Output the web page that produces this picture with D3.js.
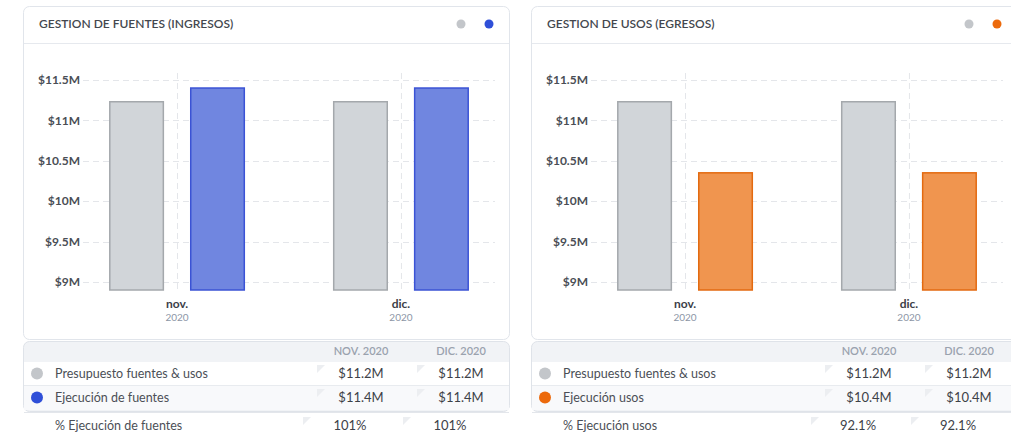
<!DOCTYPE html>
<html>
<head>
<meta charset="utf-8">
<script src="https://cdn.jsdelivr.net/npm/d3@7"></script>
<style>
  body { margin: 0; background: #fff; font-family: Lato, "Open Sans", sans-serif; }
  svg text { font-family: Lato, "Open Sans", sans-serif; }
</style>
</head>
<body>
<svg id="chart" width="1011" height="436"></svg>
<script>
// months on the x axis
const months = ['nov.', 'dic.'];
const years = ['2020', '2020'];
const colHeaders = ['NOV. 2020', 'DIC. 2020'];
const yTicks = [9, 9.5, 10, 10.5, 11, 11.5];

// values in millions
const presupuesto = [11.24, 11.24];
const ejecFuentes = [11.41, 11.41];
const ejecUsos = [10.36, 10.36];

const presupuestoText = ['$11.2M', '$11.2M'];
const fuentesText = ['$11.4M', '$11.4M'];
const usosText = ['$10.4M', '$10.4M'];
const pctFuentes = ['101%', '101%'];
const pctUsos = ['92.1%', '92.1%'];

const GRAY = { fill: '#d1d5d9', stroke: '#a4a8ac', dot: '#c3c6ca' };
const BLUE = { fill: '#7086e0', stroke: '#3b53d5', dot: '#2f4fd8' };
const ORANGE = { fill: '#f0954f', stroke: '#e36a10', dot: '#ec6a0c' };

const panels = [
    {
        x: 0,
        title: 'GESTION DE FUENTES (INGRESOS)',
        series: [
            { name: 'Presupuesto fuentes & usos', values: presupuesto, text: presupuestoText, color: GRAY },
            { name: 'Ejecución de fuentes', values: ejecFuentes, text: fuentesText, color: BLUE },
        ],
        pctLabel: '% Ejecución de fuentes',
        pct: pctFuentes,
    },
    {
        x: 508,
        title: 'GESTION DE USOS (EGRESOS)',
        series: [
            { name: 'Presupuesto fuentes & usos', values: presupuesto, text: presupuestoText, color: GRAY },
            { name: 'Ejecución usos', values: ejecUsos, text: usosText, color: ORANGE },
        ],
        pctLabel: '% Ejecución usos',
        pct: pctUsos,
    },
];

const svg = d3.select('#chart');

const y = d3.scaleLinear().domain([8.9, 11.5]).range([290, 80]);
const fmt = v => '$' + d3.format('~g')(v) + 'M';

panels.forEach(p => {
    const g = svg.append('g').attr('transform', `translate(${p.x},0)`);

    // card
    g.append('rect')
        .attr('x', 23.5).attr('y', 6.5)
        .attr('width', 486).attr('height', 333)
        .attr('rx', 6)
        .attr('fill', '#fff')
        .attr('stroke', '#e1e5eb');
    g.append('line')
        .attr('x1', 24).attr('x2', 509)
        .attr('y1', 43.5).attr('y2', 43.5)
        .attr('stroke', '#e6e9ee');
    g.append('text')
        .attr('x', 39).attr('y', 28)
        .attr('font-size', 12).attr('font-weight', 600)
        .attr('fill', '#43474e')
        .text(p.title);
    g.selectAll('.legend-dot')
        .data(p.series)
        .enter().append('circle')
        .attr('cx', (d, i) => 461 + i * 28)
        .attr('cy', 24)
        .attr('r', 4.5)
        .attr('fill', d => d.color.dot);

    // scales
    const x = d3.scalePoint().domain(months).range([83, 495]).padding(0.42);
    const xs = d3.scaleBand().domain(p.series.map(s => s.name))
        .range([-68, 68]).paddingInner(0.32).paddingOuter(0);

    // grid
    g.selectAll('.hgrid')
        .data(yTicks)
        .enter().append('line')
        .attr('x1', 83).attr('x2', 495)
        .attr('y1', d => Math.round(y(d)) + 0.5)
        .attr('y2', d => Math.round(y(d)) + 0.5)
        .attr('stroke', '#e4e6ea')
        .attr('stroke-dasharray', '6,4');
    g.selectAll('.vgrid')
        .data(months)
        .enter().append('line')
        .attr('x1', d => x(d) + 0.5).attr('x2', d => x(d) + 0.5)
        .attr('y1', 73).attr('y2', 290)
        .attr('stroke', '#e4e6ea')
        .attr('stroke-dasharray', '6,4');

    // y axis
    const yAxis = g.append('g')
        .attr('transform', 'translate(80,0)')
        .call(d3.axisLeft(y).tickValues(yTicks).tickFormat(fmt).tickSize(0).tickPadding(0));
    yAxis.select('.domain').remove();
    yAxis.selectAll('text')
        .attr('font-size', 12).attr('font-weight', 700)
        .attr('fill', '#4a4e55')
        .style('font-family', 'Lato, sans-serif');

    // bars
    p.series.forEach(s => {
        g.selectAll(null)
            .data(s.values)
            .enter().append('rect')
            .attr('x', (d, i) => x(months[i]) + xs(s.name) + 0.75)
            .attr('y', d => y(d) + 0.75)
            .attr('width', xs.bandwidth() - 1.5)
            .attr('height', d => y.range()[0] - y(d) - 0.75)
            .attr('fill', s.color.fill)
            .attr('stroke', s.color.stroke)
            .attr('stroke-width', 1.5);
    });

    // x labels
    g.selectAll('.xlab')
        .data(months)
        .enter().append('text')
        .attr('x', d => x(d)).attr('y', 308)
        .attr('text-anchor', 'middle')
        .attr('font-size', 12).attr('font-weight', 700)
        .attr('fill', '#3c4047')
        .text(d => d);
    g.selectAll('.xyear')
        .data(years)
        .enter().append('text')
        .attr('x', (d, i) => x(months[i])).attr('y', 321)
        .attr('text-anchor', 'middle')
        .attr('font-size', 10)
        .attr('fill', '#8c96a6')
        .text(d => d);

    // table
    const cols = [361, 461];
    const pctCols = [350, 450];
    const tb = g.append('g');
    tb.append('rect')
        .attr('x', 23.5).attr('y', 341.5)
        .attr('width', 486).attr('height', 70)
        .attr('rx', 6)
        .attr('fill', '#f1f3f6')
        .attr('stroke', '#dfe3e9');
    tb.append('rect')
        .attr('x', 24).attr('y', 362)
        .attr('width', 485).attr('height', 24)
        .attr('fill', '#fff');
    tb.append('rect')
        .attr('x', 24).attr('y', 386)
        .attr('width', 485).attr('height', 24)
        .attr('fill', '#f8f9fb');
    tb.append('line')
        .attr('x1', 24).attr('x2', 509)
        .attr('y1', 385.5).attr('y2', 385.5)
        .attr('stroke', '#e8ebef');
    tb.append('line')
        .attr('x1', 24).attr('x2', 509)
        .attr('y1', 412.5).attr('y2', 412.5)
        .attr('stroke', '#e3e6eb');

    tb.selectAll('.colhead')
        .data(colHeaders)
        .enter().append('text')
        .attr('x', (d, i) => cols[i]).attr('y', 355)
        .attr('text-anchor', 'middle')
        .attr('font-size', 11).attr('font-weight', 600)
        .attr('fill', '#9aa2ae')
        .text(d => d);

    // little folded-corner marks in the value cells
    const corner = (px, py) => `M${px},${py}h8l-8,8z`;

    p.series.forEach((s, r) => {
        const ry = 378 + r * 24;
        tb.append('circle')
            .attr('cx', 37).attr('cy', ry - 4.5)
            .attr('r', 6)
            .attr('fill', s.color.dot);
        tb.append('text')
            .attr('x', 55).attr('y', ry)
            .attr('font-size', 12.5)
            .attr('fill', '#4b4f56')
            .text(s.name);
        tb.selectAll(null)
            .data(s.text)
            .enter().append('text')
            .attr('x', (d, i) => cols[i]).attr('y', ry)
            .attr('text-anchor', 'middle')
            .attr('font-size', 13)
            .attr('fill', '#3d4148')
            .text(d => d);
        tb.selectAll(null)
            .data(cols)
            .enter().append('path')
            .attr('d', d => corner(d - 44, ry - 13))
            .attr('fill', '#eceef1');
    });

    tb.append('text')
        .attr('x', 55).attr('y', 430)
        .attr('font-size', 12.5)
        .attr('fill', '#4b4f56')
        .text(p.pctLabel);
    tb.selectAll(null)
        .data(p.pct)
        .enter().append('text')
        .attr('x', (d, i) => pctCols[i]).attr('y', 430)
        .attr('text-anchor', 'middle')
        .attr('font-size', 13)
        .attr('fill', '#3d4148')
        .text(d => d);
    tb.selectAll(null)
        .data(pctCols)
        .enter().append('path')
        .attr('d', d => corner(d - 47, 417))
        .attr('fill', '#eceef1');
});
</script>
</body>
</html>
